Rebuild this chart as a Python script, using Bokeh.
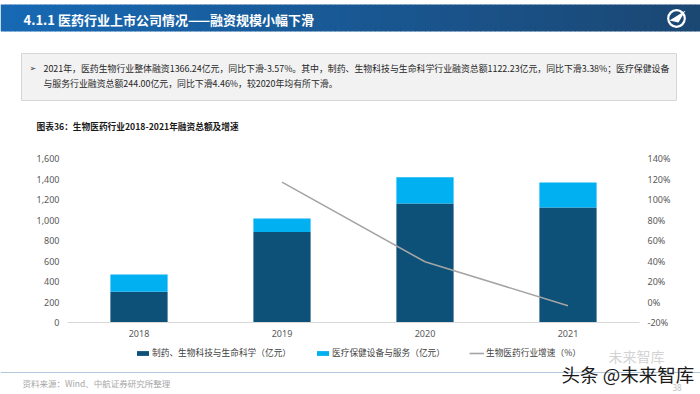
from bokeh.plotting import figure
from bokeh.models import (Range1d, FactorRange, LinearAxis, FixedTicker, NumeralTickFormatter,
                          Legend, LegendItem, ColumnDataSource)
from bokeh.layouts import column
from bokeh.core.properties import value
from bokeh.embed import file_html
from bokeh.resources import INLINE

# ---------------- data ----------------
years = ["2018", "2019", "2020", "2021"]
pharma = [300.0, 884.0, 1161.5, 1122.23]       # 制药、生物科技与生命科学（亿元）
device = [168.0, 131.0, 255.4, 244.00]         # 医疗保健设备与服务（亿元）
growth_years = ["2019", "2020", "2021"]
growth = [1.17, 0.392, -0.0357]                # 生物医药行业增速
left_ticks = [0, 200, 400, 600, 800, 1000, 1200, 1400, 1600]
right_ticks = [-0.2, 0.0, 0.2, 0.4, 0.6, 0.8, 1.0, 1.2, 1.4]

header_title = "4.1.1 医药行业上市公司情况——融资规模小幅下滑"
box_line1 = "2021年，医药生物行业整体融资1366.24亿元，同比下滑-3.57%。其中，制药、生物科技与生命科学行业融资总额1122.23亿元，同比下滑3.38%；医疗保健设备"
box_line2 = "与服务行业融资总额244.00亿元，同比下滑4.46%，较2020年均有所下滑。"
chart_title = "图表36：生物医药行业2018-2021年融资总额及增速"
legend_labels = ["制药、生物科技与生命科学（亿元）", "医疗保健设备与服务（亿元）", "生物医药行业增速（%）"]
source_text = "资料来源：Wind、中航证券研究所整理"
watermark = "头条 @未来智库"
watermark2 = "未来智库"
page_no = "38"

DARK = "#0D5078"
LIGHT = "#00B0F0"
GRAY_LINE = "#A5A5A5"
CJK = "Noto Sans CJK SC"
W = 700


def blank_fig(h, y0, y1):
    f = figure(width=W, height=h, x_range=Range1d(0, W), y_range=Range1d(y1, y0),
               output_backend="svg", toolbar_location=None,
               x_axis_location=None, y_axis_location=None, min_border=0)
    f.frame_align = False
    f.outline_line_color = None
    f.grid.visible = False
    f.background_fill_color = "white"
    f.border_fill_color = "white"
    return f


# ---------------- top: header + text box ----------------
p1 = blank_fig(143, 0, 143)

n = 140
lefts, rights, cols = [], [], []
c0 = (0x17, 0x69, 0xB4)
c1 = (0x1B, 0x47, 0x73)
for i in range(n):
    t = i / (n - 1)
    lefts.append(W * i / n)
    rights.append(W * (i + 1) / n + 0.5)
    c = tuple(int(round(c0[k] + (c1[k] - c0[k]) * t)) for k in range(3))
    cols.append("#%02x%02x%02x" % c)
p1.quad(left=lefts, right=rights, top=4, bottom=31, fill_color=cols, line_color=None)

p1.text(x=[23], y=[19], text=[header_title], text_color="white",
        text_font=value(CJK), text_font_style="bold", text_font_size="13px",
        text_baseline="middle")

# logo
p1.annulus(x=[676], y=[18], inner_radius=7.2, outer_radius=9.4, fill_color="white", line_color=None)
p1.patch(x=[669, 685, 678], y=[20, 10, 22], fill_color="white", line_color=None)

# text box
p1.quad(left=[21], right=[676], top=[53], bottom=[100], fill_color="#F2F2F2", line_color="#D6D6D6")
p1.text(x=[29], y=[68], text=["➢"], text_color="#333333", text_font=value("DejaVu Sans"),
        text_font_size="8px", text_baseline="middle")
p1.text(x=[43, 43], y=[68, 83], text=[box_line1, box_line2], text_color="#262626",
        text_font=value(CJK), text_font_size="8.9px", text_baseline="middle")

p1.text(x=[36], y=[126], text=[chart_title], text_color="#1a1a1a",
        text_font=value(CJK), text_font_style="bold", text_font_size="8.7px",
        text_baseline="middle")

# ---------------- chart ----------------
src = ColumnDataSource(dict(year=years, pharma=pharma, device=device))
p2 = figure(width=W, height=200, x_range=FactorRange(factors=years, range_padding=0),
            y_range=Range1d(0, 1600), output_backend="svg", toolbar_location=None,
            min_border_left=67, min_border_right=61, min_border_top=15, min_border_bottom=21)
p2.frame_align = False
p2.extra_y_ranges = {"pct": Range1d(-0.2, 1.4)}
p2.outline_line_color = None
p2.grid.visible = False

bars = p2.vbar_stack(["pharma", "device"], x="year", width=0.4, source=src,
                     fill_color=[DARK, LIGHT], line_color=None)
gl = p2.line(x=growth_years, y=growth, y_range_name="pct", line_color=GRAY_LINE, line_width=1.6)

ya = p2.yaxis[0]
ya.ticker = FixedTicker(ticks=left_ticks)
ya.formatter = NumeralTickFormatter(format="0,0")
ra = LinearAxis(y_range_name="pct", ticker=FixedTicker(ticks=right_ticks),
                formatter=NumeralTickFormatter(format="0%"))
p2.add_layout(ra, "right")
for a in (ya, ra):
    a.axis_line_color = None
    a.major_tick_line_color = None
    a.minor_tick_line_color = None
    a.major_tick_out = 0
    a.major_tick_in = 0
    a.major_label_standoff = 8
    a.major_label_text_font = "Noto Sans"
    a.major_label_text_font_size = "9px"
    a.major_label_text_color = "#595959"
xa = p2.xaxis[0]
xa.axis_line_color = "#D9D9D9"
xa.axis_line_width = 1
xa.major_tick_line_color = None
xa.minor_tick_line_color = None
xa.major_tick_out = 0
xa.major_tick_in = 0
xa.major_label_standoff = 7
xa.major_label_text_font = "Noto Sans"
xa.major_label_text_font_size = "9px"
xa.major_label_text_color = "#595959"

# ---------------- footer (legend + source) ----------------
p3 = blank_fig(51, 343, 394)
# legend swatch renderers (kept off-canvas; same styles as the chart's renderers)
lg_a = p3.vbar(x=[-500], top=[343], bottom=[343], width=1, fill_color=DARK, line_color=None)
lg_b = p3.vbar(x=[-500], top=[343], bottom=[343], width=1, fill_color=LIGHT, line_color=None)
lg_c = p3.line(x=[-502, -501], y=[343, 343], line_color=GRAY_LINE, line_width=1.6)
legend = Legend(items=[LegendItem(label=legend_labels[0], renderers=[lg_a]),
                       LegendItem(label=legend_labels[1], renderers=[lg_b]),
                       LegendItem(label=legend_labels[2], renderers=[lg_c])],
                orientation="horizontal", location=(135, 35))
legend.label_text_font = CJK
legend.label_text_font_size = "8.7px"
legend.label_text_color = "#404040"
legend.glyph_width = 15
legend.glyph_height = 6
legend.label_height = 10
legend.label_standoff = 2
legend.spacing = 24
legend.padding = 0
legend.margin = 0
legend.border_line_color = None
legend.background_fill_alpha = 0
p3.add_layout(legend)

p3.text(x=[608], y=[355], text=[watermark2], text_color="#D3D3D3",
        text_font=value(CJK), text_font_size="14px", text_baseline="middle")
p3.segment(x0=[0], x1=[W], y0=[372], y1=[372], line_color="#B3C8DA", line_width=1)
p3.text(x=[22], y=[382], text=[source_text], text_color="#A6A6A6",
        text_font=value(CJK), text_font_size="8.5px", text_baseline="middle")
p3.text(x=[672], y=[387], text=[page_no], text_color="#BFBFBF",
        text_font=value("Noto Sans"), text_font_size="8px", text_baseline="middle")
p3.text(x=[561], y=[373], text=[watermark], text_color="#1a1a1a",
        text_font=value(CJK), text_font_size="18.5px", text_baseline="middle")

layout = column(p1, p2, p3, spacing=0)
open("out.html", "w").write(file_html(layout, INLINE))
